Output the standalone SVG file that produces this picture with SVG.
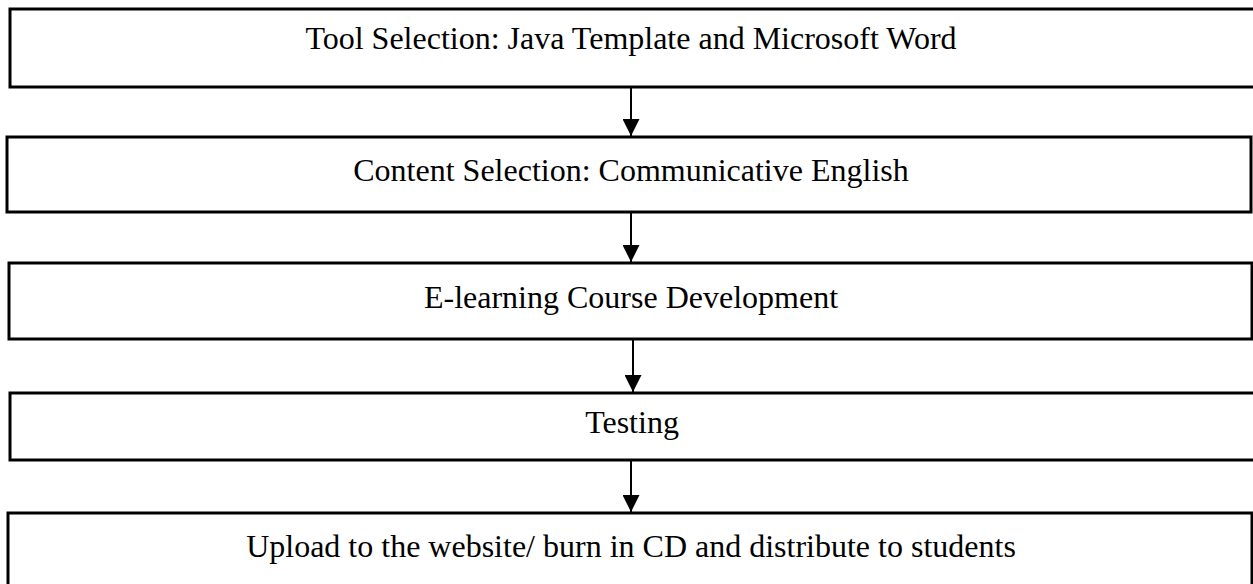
<svg xmlns="http://www.w3.org/2000/svg" width="1253" height="584" viewBox="0 0 1253 584">
  <style>
    .box { fill: #ffffff; stroke: #000000; stroke-width: 3; }
    .label { font-family: "Liberation Serif", "Times New Roman", serif; font-size: 32px; fill: #000000; text-anchor: middle; }
    .link { stroke: #000000; stroke-width: 2; fill: none; }
  </style>
  <defs>
    <marker id="arrowhead" markerUnits="userSpaceOnUse" markerWidth="17" markerHeight="17" viewBox="0 0 17 17" refX="17" refY="8.5" orient="auto">
      <path d="M0,0 L17,8.5 L0,17 Z" fill="#000000"/>
    </marker>
  </defs>
  <rect width="1253" height="584" fill="#ffffff"/>

  <g id="tool-selection">
    <rect class="box" x="10" y="9" width="1260" height="78"/>
    <text class="label" x="631" y="49">Tool Selection: Java Template and Microsoft Word</text>
  </g>

  <g id="content-selection">
    <rect class="box" x="7" y="137" width="1244" height="75"/>
    <text class="label" x="631" y="181">Content Selection: Communicative English</text>
  </g>

  <g id="course-development">
    <rect class="box" x="9" y="263" width="1243" height="76"/>
    <text class="label" x="631" y="308">E-learning Course Development</text>
  </g>

  <g id="testing">
    <rect class="box" x="10" y="393" width="1260" height="67"/>
    <text class="label" x="632" y="433">Testing</text>
  </g>

  <g id="distribution">
    <rect class="box" x="8" y="513" width="1244" height="90"/>
    <text class="label" x="631" y="557">Upload to the website/ burn in CD and distribute to students</text>
  </g>

  <g id="connectors">
    <line class="link" x1="631" y1="88" x2="631" y2="136" marker-end="url(#arrowhead)"/>
    <line class="link" x1="631" y1="213" x2="631" y2="262" marker-end="url(#arrowhead)"/>
    <line class="link" x1="633" y1="340" x2="633" y2="392" marker-end="url(#arrowhead)"/>
    <line class="link" x1="631" y1="461" x2="631" y2="512" marker-end="url(#arrowhead)"/>
  </g>
</svg>
